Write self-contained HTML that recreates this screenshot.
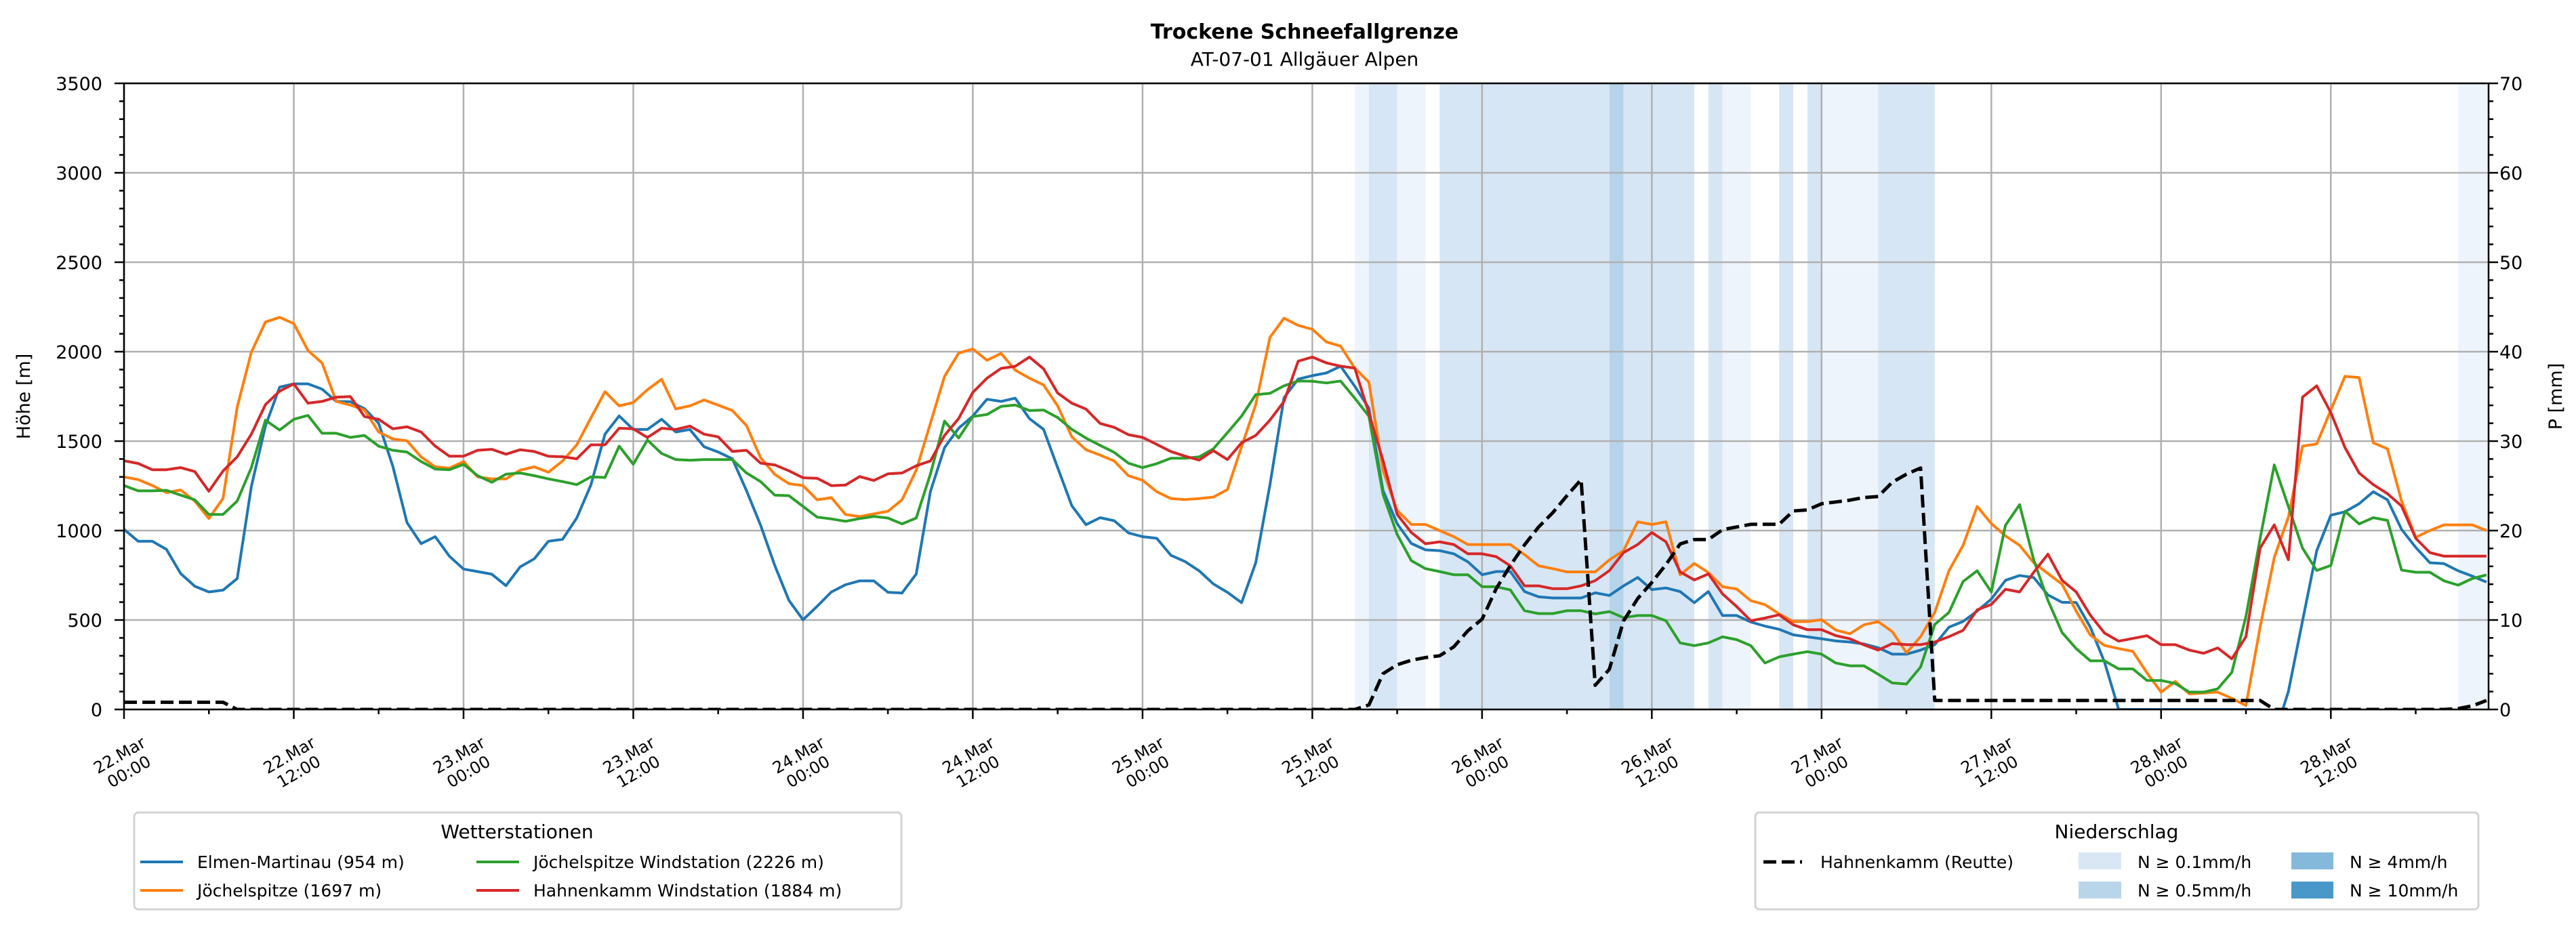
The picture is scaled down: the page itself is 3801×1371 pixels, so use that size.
<!DOCTYPE html>
<html><head><meta charset="utf-8"><style>
html,body{margin:0;padding:0;background:#fff;}
svg{display:block;font-family:"DejaVu Sans","Liberation Sans",sans-serif;}
</style></head><body>
<svg id="chart" width="3801" height="1371" viewBox="0 0 3801 1371" xmlns="http://www.w3.org/2000/svg">
<defs><clipPath id="plotclip"><rect x="183" y="123" width="3489" height="924"/></clipPath></defs>
<rect x="0" y="0" width="3801" height="1371" fill="#fff"/>
<text x="1925" y="57" text-anchor="middle" font-size="30" font-weight="bold">Trockene Schneefallgrenze</text>
<text x="1925" y="97" text-anchor="middle" font-size="28">AT-07-01 Allgäuer Alpen</text>
<g id="bands" clip-path="url(#plotclip)"></g>
<g id="grid"></g>
<g id="series" clip-path="url(#plotclip)"></g>
<g id="axes"></g>
<text transform="translate(44,585) rotate(-90)" text-anchor="middle" font-size="27">Höhe [m]</text>
<text transform="translate(3780,585) rotate(-90)" text-anchor="middle" font-size="27">P [mm]</text>

<g>
<rect x="198" y="1199" width="1132" height="143" rx="6" fill="#fff" stroke="#d3d3d3" stroke-width="3"/>
<text x="763" y="1237" text-anchor="middle" font-size="28">Wetterstationen</text>
<g><line x1="207" y1="1272" x2="270" y2="1272" stroke="#1f77b4" stroke-width="4"/><text x="291" y="1281" font-size="25">Elmen-Martinau (954 m)</text></g>
<g><line x1="207" y1="1314" x2="270" y2="1314" stroke="#ff7f0e" stroke-width="4"/><text x="291" y="1323" font-size="25">Jöchelspitze (1697 m)</text></g>
<g><line x1="703" y1="1272" x2="766" y2="1272" stroke="#2ca02c" stroke-width="4"/><text x="787" y="1281" font-size="25">Jöchelspitze Windstation (2226 m)</text></g>
<g><line x1="703" y1="1314" x2="766" y2="1314" stroke="#d62728" stroke-width="4"/><text x="787" y="1323" font-size="25">Hahnenkamm Windstation (1884 m)</text></g>
</g>

<g>
<rect x="2590" y="1199" width="1067" height="143" rx="6" fill="#fff" stroke="#d3d3d3" stroke-width="3"/>
<text x="3123" y="1237" text-anchor="middle" font-size="28">Niederschlag</text>
<g><line x1="2602" y1="1272" x2="2659" y2="1272" stroke="#000" stroke-width="5" stroke-dasharray="19,8"/><text x="2686" y="1281" font-size="25">Hahnenkamm (Reutte)</text></g>
<g><rect x="3067" y="1258" width="63" height="25" fill="#d9e7f5"/><text x="3154" y="1281" font-size="25">N ≥ 0.1mm/h</text></g>
<g><rect x="3067" y="1301" width="63" height="25" fill="#b9d5ea"/><text x="3154" y="1323" font-size="25">N ≥ 0.5mm/h</text></g>
<g><rect x="3381" y="1258" width="62" height="25" fill="#84b9dc"/><text x="3467" y="1281" font-size="25">N ≥ 4mm/h</text></g>
<g><rect x="3381" y="1301" width="62" height="25" fill="#4a98c9"/><text x="3467" y="1323" font-size="25">N ≥ 10mm/h</text></g>
</g>
</svg>
<script>
const tickLabels=["22.Mar|00:00","22.Mar|12:00","23.Mar|00:00","23.Mar|12:00","24.Mar|00:00","24.Mar|12:00","25.Mar|00:00","25.Mar|12:00","26.Mar|00:00","26.Mar|12:00","27.Mar|00:00","27.Mar|12:00","28.Mar|00:00","28.Mar|12:00"];
const tickHours=[0,12,24,36,48,60,72,84,96,108,120,132,144,156];
const yTicks=[0,500,1000,1500,2000,2500,3000,3500];
const y2Ticks=[0,10,20,30,40,50,60,70];
const elmen=[1007,940,940,895,760,689,657,667,732,1247,1585,1802,1820,1820,1791,1722,1720,1682,1600,1360,1045,927,966,857,785,771,756,692,797,842,940,951,1070,1254,1539,1641,1565,1565,1622,1551,1565,1469,1439,1401,
1224,1030,805,610,501,577,657,697,719,719,655,651,757,1217,1464,1572,1640,1734,1722,1740,1626,1566,1352,1139,1033,1072,1055,987,966,957,862,827,775,702,655,597,820,1254,1742,1847,1866,
1881,1919,1807,1684,1224,1038,928,892,888,870,825,753,771,771,659,630,623,623,623,652,637,691,738,670,679,659,597,659,525,525,489,466,448,417,406,395,383,377,366,345,309,
309,332,362,460,492,550,617,722,749,737,640,599,598,460,265,0,0,0,0,0,0,0,0,0,0,0,-150,100,495,887,1086,1105,1150,1217,1172,1007,906,820,815,775,745,712];
const joechel=[1300,1285,1252,1212,1227,1165,1067,1180,1690,1997,2166,2192,2157,2007,1937,1722,1701,1674,1551,1512,1502,1412,1356,1349,1386,1300,1289,1289,1338,1356,1326,1389,1479,1629,1776,1697,1716,1787,1845,1680,1697,1730,1701,1671,
1587,1407,1314,1262,1251,1172,1184,1090,1078,1093,1108,1172,1337,1599,1862,1992,2015,1952,1990,1897,1852,1814,1697,1524,1452,1422,1389,1307,1281,1217,1179,1173,1179,1187,1229,1469,1704,2079,2187,2147,2125,
2054,2031,1908,1830,1336,1112,1034,1034,1000,966,922,922,922,922,865,803,787,769,769,769,836,888,1049,1034,1049,753,816,765,686,673,608,586,534,491,491,502,444,423,473,491,435,
317,407,542,775,917,1135,1039,970,917,820,760,700,550,415,358,340,325,205,97,157,87,92,97,62,22,460,850,1075,1472,1484,1674,1862,1855,1491,1457,1165,962,1000,1032,1032,1032,1000];
const hahnWind=[1390,1375,1340,1340,1352,1330,1220,1333,1412,1539,1704,1779,1820,1712,1722,1746,1749,1637,1622,1569,1580,1551,1472,1416,1416,1449,1454,1427,1452,1442,1415,1413,1401,1479,1479,1572,1569,1520,1572,1565,1584,1539,1524,1442,
1449,1377,1367,1334,1295,1292,1251,1254,1302,1280,1317,1322,1362,1389,1532,1626,1772,1852,1907,1918,1970,1904,1769,1712,1679,1599,1577,1536,1521,1482,1442,1416,1394,1447,1397,1491,1532,1617,1722,1947,1970,
1937,1919,1908,1655,1392,1090,989,926,937,922,870,870,854,803,691,691,675,675,691,720,776,877,922,989,937,769,724,758,646,575,496,511,529,473,446,446,413,395,361,332,368,
362,362,377,407,442,557,587,672,657,767,868,722,657,527,427,382,397,412,362,362,332,314,344,283,407,902,1032,837,1746,1809,1659,1464,1322,1257,1206,1137,957,877,857,857,857,857];
const joechelWind=[1252,1222,1222,1225,1198,1172,1090,1090,1165,1352,1617,1562,1622,1644,1544,1544,1521,1532,1472,1449,1439,1386,1344,1340,1370,1307,1270,1315,1322,1307,1289,1274,1257,1300,1297,1472,1371,1506,1431,1397,1393,1397,1397,1397,
1322,1274,1198,1195,1135,1075,1065,1052,1067,1079,1070,1037,1070,1315,1612,1517,1637,1649,1694,1702,1671,1674,1632,1566,1517,1476,1437,1377,1352,1374,1404,1404,1412,1457,1547,1640,1760,1767,1809,1836,1835,
1825,1836,1740,1639,1202,978,832,787,771,753,753,686,686,668,552,536,536,552,552,534,547,513,525,525,496,372,357,372,406,390,357,260,294,309,323,309,260,244,244,197,148,
142,237,475,542,715,775,657,1030,1145,835,610,430,340,272,272,227,227,162,162,145,97,97,115,207,520,955,1367,1135,902,777,805,1108,1037,1072,1057,779,767,767,719,695,732,752];
const precipReutte=[0.8,0.8,0.8,0.8,0.8,0.8,0.8,0.8,
0,0,0,0,0,0,0,0,0,0,
0,0,0,0,0,0,0,0,0,0,
0,0,0,0,0,0,0,0,0,0,
0,0,0,0,0,0,0,0,0,0,
0,0,0,0,0,0,0,0,0,0,
0,0,0,0,0,0,0,0,0,0,
0,0,0,0,0,0,0,0,0,0,
0,0,0,0,0,0,0,0,0,0,
0.5,4,5,5.5,5.8,6,7,8.8,10.1,13.5,16.1,18.4,20.4,22,23.9,25.7,2.7,4.5,9.9,12.4,14.2,16.2,18.5,19,19,20.1,20.4,20.7,20.7,20.7,22.2,22.3,23,23.2,23.4,23.7,23.8,25.4,26.3,27,
1,1,1,1,1,1,1,1,1,1,1,1,1,1,1,1,1,1,1,1,1,1,1,1,
0,0,0,0,0,0,0,0,0,0,0,0,0,0.1,0.4,1];
const bandStart=[87,88,90,93,105,106,112,113,117,119,120,124,165];
const bandEnd=[88,90,92,105,106,111,113,115,118,120,124,128,167.2];
const bandLevel=[0,1,0,1,2,1,1,0,1,1,0,1,0];

const NS='http://www.w3.org/2000/svg';
const L=183,R=3672,T=123,B=1047,HMAX=167.15;
const xS=h=>L+h*(R-L)/HMAX;
const yS=v=>B-v*(B-T)/3500;
const y2S=v=>B-v*(B-T)/70;
function mk(tag,parent){const e=document.createElementNS(NS,tag);parent.appendChild(e);return e;}
const gB=document.getElementById('bands'),gG=document.getElementById('grid'),gS=document.getElementById('series'),gA=document.getElementById('axes');
const bandColors=['#eef4fb','#d7e6f4','#b5d4e9'];
for(let i=0;i<bandStart.length;i++){
  const r=mk('rect',gB);
  
  
  r.setAttribute('x',xS(bandStart[i]));r.setAttribute('y',T);
  r.setAttribute('width',xS(bandEnd[i])-xS(bandStart[i]));r.setAttribute('height',B-T);
  r.setAttribute('fill',bandColors[bandLevel[i]]);
}
tickHours.forEach(h=>{const l=mk('line',gG);
  
  
  l.setAttribute('x1',xS(h));l.setAttribute('x2',xS(h));l.setAttribute('y1',T);l.setAttribute('y2',B);l.setAttribute('stroke','#b0b0b0');l.setAttribute('stroke-width','2.5');});
yTicks.forEach(v=>{const l=mk('line',gG);
  
  
  l.setAttribute('x1',L);l.setAttribute('x2',R);l.setAttribute('y1',yS(v));l.setAttribute('y2',yS(v));l.setAttribute('stroke','#b0b0b0');l.setAttribute('stroke-width','2.5');});
function line(data,color,name,scale,dash,w){
  const p=mk('path',gS);
  
  
  p.setAttribute('d',data.map((v,i)=>(i?'L':'M')+xS(i).toFixed(1)+','+scale(v).toFixed(1)).join(''));
  p.setAttribute('fill','none');p.setAttribute('stroke',color);p.setAttribute('stroke-width',w);p.setAttribute('stroke-linejoin','round');
  if(dash)p.setAttribute('stroke-dasharray',dash);
}
line(elmen,'#1f77b4','line-elmen-martinau',yS,null,4);
line(joechel,'#ff7f0e','line-joechelspitze',yS,null,4);
line(joechelWind,'#2ca02c','line-joechelspitze-windstation',yS,null,4);
line(hahnWind,'#d62728','line-hahnenkamm-windstation',yS,null,4);
line(precipReutte,'#000','line-precip-hahnenkamm-reutte',y2S,'19,8',5);
const fr=mk('rect',gA);


fr.setAttribute('x',L);fr.setAttribute('y',T);fr.setAttribute('width',R-L);fr.setAttribute('height',B-T);fr.setAttribute('fill','none');fr.setAttribute('stroke','#000');fr.setAttribute('stroke-width','2.5');
function tk(x1,y1,x2,y2,nm){const l=mk('line',gA);
  
  
  l.setAttribute('x1',x1);l.setAttribute('y1',y1);l.setAttribute('x2',x2);l.setAttribute('y2',y2);l.setAttribute('stroke','#000');l.setAttribute('stroke-width','2.5');}
for(let v=0;v<=3500;v+=100){const maj=v%500===0;tk(L,yS(v),L-(maj?14:7),yS(v),'y-tick');}
for(let v=0;v<=70;v+=2){const maj=v%10===0;tk(R,y2S(v),R+(maj?14:7),y2S(v),'y2-tick');}
for(let h=0;h<=HMAX;h+=6){const maj=h%12===0;tk(xS(h),B,xS(h),B+(maj?14:7),'x-tick');}
yTicks.forEach(v=>{const t=mk('text',gA);
  
  
  t.setAttribute('x',151);t.setAttribute('y',yS(v)+10);t.setAttribute('text-anchor','end');t.setAttribute('font-size','27');t.textContent=v;});
y2Ticks.forEach(v=>{const t=mk('text',gA);
  
  
  t.setAttribute('x',3688);t.setAttribute('y',y2S(v)+10);t.setAttribute('font-size','27');t.textContent=v;});
tickHours.forEach((h,i)=>{const t=mk('text',gA);
  
  
  const cx=xS(h),cy=1126;
  t.setAttribute('transform','translate('+cx+','+cy+') rotate(-30)');
  t.setAttribute('text-anchor','middle');t.setAttribute('font-size','24');
  const parts=tickLabels[i].split('|');
  parts.forEach((s,j)=>{const ts=mk('tspan',t);ts.setAttribute('x',0);ts.setAttribute('y',j===0?-5:23);ts.textContent=s;});
});
</script>
</body></html>
